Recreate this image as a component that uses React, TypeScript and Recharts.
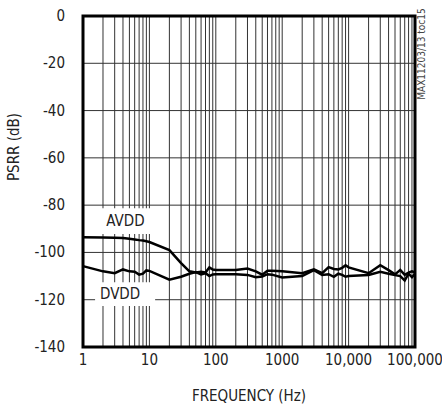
import React from "react";
import {
  LineChart,
  Line,
  XAxis,
  YAxis,
  CartesianGrid,
  ReferenceArea,
} from "recharts";

// frequency points (Hz)
const freqs = [
  1, 2, 3, 4, 5, 6, 7, 8, 9, 10, 20, 30, 40, 50, 60, 70, 80, 90, 100, 200,
  300, 400, 500, 600, 700, 1000, 2000, 3000, 4000, 5000, 6000, 7000, 8000,
  9000, 10000, 20000, 30000, 40000, 50000, 60000, 70000, 80000, 90000, 100000,
];

const avdd = [
  -93.6, -93.7, -93.8, -93.9, -94.2, -94.5, -94.8, -95.0, -95.3, -95.6, -99,
  -104.5, -108, -108.5, -108.2, -108.5, -106.3, -107.2, -107.4, -107.4,
  -106.8, -108, -109.4, -107.7, -107.7, -108, -108.8, -107.2, -108.8, -106.2,
  -107, -107.2, -106.5, -105.4, -106.3, -108.8, -105.4, -107.5, -109.3,
  -107.4, -109.5, -108.5, -108, -108.5,
];

const dvdd = [
  -105.8, -108, -108.8, -107.2, -108, -108.2, -109.4, -109, -107.6, -107.8,
  -111.5, -110.3, -109, -108.3, -109.3, -108.8, -110, -109.3, -109.2, -109.2,
  -109.5, -110.5, -110.2, -109.2, -109.4, -110.6, -110, -107.5, -109.5,
  -109.2, -110.3, -109, -109.5, -110.3, -110, -109.5, -108.2, -109, -109.6,
  -110, -111.9, -109, -110.5, -109,
];

const decades = [1, 10, 100, 1000, 10000, 100000];
const gridFreqs = [
  1, 2, 3, 4, 5, 6, 7, 8, 9, 10, 20, 30, 40, 50, 60, 70, 80, 90, 100, 200,
  300, 400, 500, 600, 700, 800, 900, 1000, 2000, 3000, 4000, 5000, 6000, 7000,
  8000, 9000, 10000, 20000, 30000, 40000, 50000, 60000, 70000, 80000, 90000,
  100000,
];
const yTicks = [-140, -120, -100, -80, -60, -40, -20, 0];

const data = freqs.map((f, i) => ({ f, avdd: avdd[i], dvdd: dvdd[i] }));

const FONT = "'Liberation Sans Narrow', 'Arial Narrow', 'DejaVu Sans Condensed', sans-serif";

const fmtFreq = (v: number) => (v >= 10000 ? v.toLocaleString("en-US") : String(v));

const XTick = (props: any) => {
  const { x, y, payload } = props;
  if (!decades.includes(payload.value)) return null;
  return (
    <text x={x} y={y + 10} textAnchor="middle" fontSize={15} fontFamily={FONT} fill="#222">
      {fmtFreq(payload.value)}
    </text>
  );
};

const YTick = (props: any) => {
  const { x, y, payload } = props;
  return (
    <text x={x - 10} y={y + 5} textAnchor="end" fontSize={15} fontFamily={FONT} fill="#222">
      {payload.value}
    </text>
  );
};

const App: React.FC = () => {
  return (
    <div style={{ position: "absolute", left: 0, top: 0, background: "#fff" }}>
      <LineChart
        width={442}
        height={406}
        data={data}
        margin={{ top: 16, right: 27, bottom: 0, left: 0 }}
      >
        <CartesianGrid stroke="#333" strokeWidth={1} />
        <XAxis
          dataKey="f"
          type="number"
          scale="log"
          domain={[1, 100000]}
          ticks={gridFreqs}
          interval={0}
          tick={<XTick />}
          tickLine={false}
          axisLine={false}
          height={59}
          label={{
            value: "FREQUENCY (Hz)",
            position: "insideBottom",
            offset: 5,
            fontSize: 15,
            fontFamily: FONT,
            fill: "#222",
          }}
        />
        <YAxis
          type="number"
          domain={[-140, 0]}
          ticks={yTicks}
          interval={0}
          tick={<YTick />}
          tickLine={false}
          axisLine={false}
          width={83}
        />
        <ReferenceArea
          x1={1}
          x2={10.9}
          y1={-92.2}
          y2={-81.3}
          fill="#fff"
          fillOpacity={1}
          stroke="none"
          label={{ value: "AVDD", dx: 8, fontSize: 15, fontFamily: FONT, fill: "#222" }}
        />
        <ReferenceArea
          x1={1.52}
          x2={12.2}
          y1={-122.7}
          y2={-112.6}
          fill="#fff"
          fillOpacity={1}
          stroke="none"
          label={{ value: "DVDD", dx: -5, fontSize: 15, fontFamily: FONT, fill: "#222" }}
        />
        <Line
          dataKey="avdd"
          stroke="#000"
          strokeWidth={2.5}
          dot={false}
          isAnimationActive={false}
        />
        <Line
          dataKey="dvdd"
          stroke="#000"
          strokeWidth={2.5}
          dot={false}
          isAnimationActive={false}
        />
        <ReferenceArea
          x1={1}
          x2={100000}
          y1={-140}
          y2={0}
          fill="none"
          stroke="#000"
          strokeWidth={3}
        />
        <text
          x={14}
          y={147}
          transform="rotate(-90 14 147)"
          textAnchor="middle"
          dominantBaseline="central"
          fontSize={15}
          fontFamily={FONT}
          fill="#222"
        >
          PSRR (dB)
        </text>
        <text
          x={421}
          y={54}
          transform="rotate(-90 421 54)"
          textAnchor="middle"
          dominantBaseline="central"
          fontSize={10}
          fontFamily={FONT}
          fill="#444"
        >
          MAX11203/13 toc15
        </text>
      </LineChart>
    </div>
  );
};

export default App;
